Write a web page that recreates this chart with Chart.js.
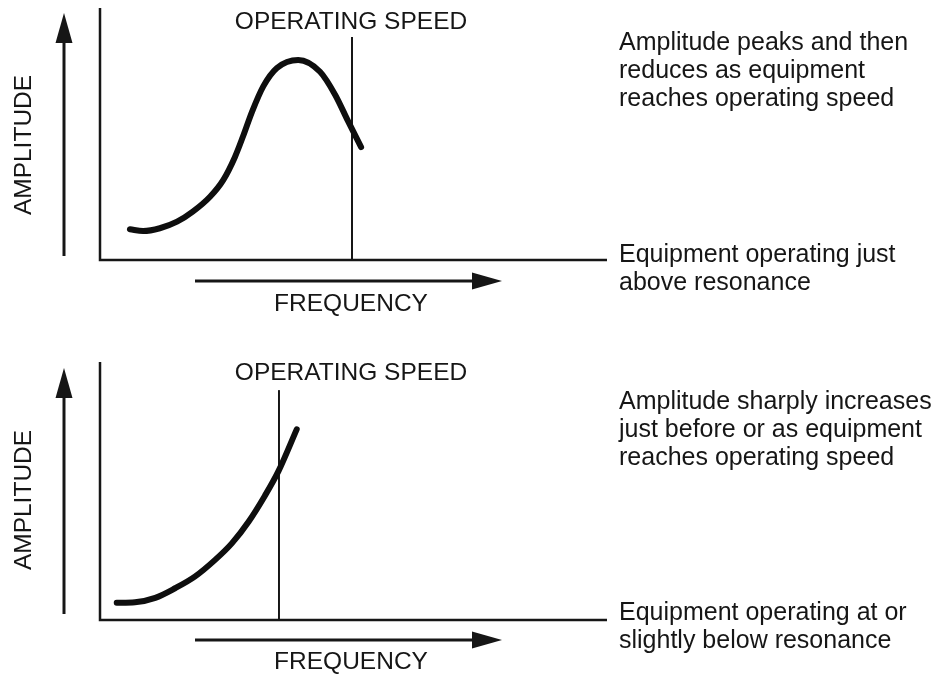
<!DOCTYPE html>
<html>
<head>
<meta charset="utf-8">
<script src="https://cdn.jsdelivr.net/npm/chart.js@4.4.1/dist/chart.umd.min.js"></script>
<style>
  body { margin: 0; background: #fff; }
  #wrap { position: relative; width: 940px; height: 676px; }
  canvas { position: absolute; left: 0; }
</style>
</head>
<body>
<div id="wrap">
  <canvas id="topChart" width="940" height="338" style="top:0"></canvas>
  <canvas id="bottomChart" width="940" height="338" style="top:338px"></canvas>
</div>
<script>
// top panel: just above resonance (frequency / amplitude, 0-100)
const topFreq = [5.9, 8.5, 11.8, 15.2, 18.3, 21.7, 24.3, 26.6, 28.2, 30.0, 32.2, 34.9, 39.1, 43.4, 46.4, 48.9, 51.5];
const topAmp  = [12.2, 11.5, 12.6, 15.2, 19.2, 25.1, 31.7, 40.8, 49.0, 58.9, 68.9, 76.2, 79.4, 74.7, 65.5, 55.2, 44.8];
const topSpeed = 49.7;
const topSpeedTop = 88.5;

// bottom panel: at or slightly below resonance
const botFreq = [3.3, 6.9, 10.9, 14.8, 18.7, 22.7, 26.0, 29.3, 32.5, 35.2, 38.8];
const botAmp  = [6.7, 6.9, 8.6, 12.3, 16.8, 23.3, 29.7, 38.1, 48.1, 57.7, 73.9];
const botSpeed = 35.3;
const botSpeedTop = 89.1;

const topNotes = ["Amplitude peaks and then", "reduces as equipment", "reaches operating speed"];
const topBase  = ["Equipment operating just", "above resonance"];
const botNotes = ["Amplitude sharply increases", "just before or as equipment", "reaches operating speed"];
const botBase  = ["Equipment operating at or", "slightly below resonance"];

const ink = "#161616";
const labelFont = '24.5px "Liberation Sans", Arial, sans-serif';
const noteFont = '25px "Liberation Sans", Arial, sans-serif';

function arrowUp(ctx, x, yTip, yEnd) {
    ctx.lineWidth = 3;
    ctx.beginPath();
    ctx.moveTo(x, yEnd);
    ctx.lineTo(x, yTip + 20);
    ctx.stroke();
    ctx.beginPath();
    ctx.moveTo(x, yTip);
    ctx.lineTo(x - 8.5, yTip + 30);
    ctx.lineTo(x + 8.5, yTip + 30);
    ctx.closePath();
    ctx.fill();
}

function arrowRight(ctx, xStart, xTip, y) {
    ctx.lineWidth = 3;
    ctx.beginPath();
    ctx.moveTo(xStart, y);
    ctx.lineTo(xTip - 20, y);
    ctx.stroke();
    ctx.beginPath();
    ctx.moveTo(xTip, y);
    ctx.lineTo(xTip - 30, y - 8.5);
    ctx.lineTo(xTip - 30, y + 8.5);
    ctx.closePath();
    ctx.fill();
}

// axes, arrows and labels
function decorations(opts) {
    return {
        id: "decor",
        afterDraw(chart) {
            const ctx = chart.ctx;
            const a = chart.chartArea;
            ctx.save();
            ctx.strokeStyle = ink;
            ctx.fillStyle = ink;
            ctx.lineWidth = 2.5;
            ctx.beginPath();
            ctx.moveTo(a.left, a.top);
            ctx.lineTo(a.left, a.bottom);
            ctx.lineTo(a.right, a.bottom);
            ctx.stroke();

            arrowUp(ctx, 64, opts.upTip, opts.upEnd);
            arrowRight(ctx, 195, 502, opts.freqY);

            ctx.font = labelFont;
            ctx.textBaseline = "middle";
            ctx.textAlign = "center";
            ctx.fillText("OPERATING SPEED", 351, opts.speedLabelY);
            ctx.fillText("FREQUENCY", 351, opts.freqLabelY);

            ctx.save();
            ctx.translate(24, opts.ampLabelY);
            ctx.rotate(-Math.PI / 2);
            ctx.fillText("AMPLITUDE", 0, 0);
            ctx.restore();

            ctx.font = noteFont;
            ctx.textAlign = "left";
            opts.notes.forEach((t, i) => ctx.fillText(t, 619, opts.notesY + i * 28));
            opts.base.forEach((t, i) => ctx.fillText(t, 619, opts.baseY + i * 28));
            ctx.restore();
        }
    };
}

function makeChart(id, freq, amp, speed, speedTop, pad, opts) {
    const curve = freq.map((f, i) => ({ x: f, y: amp[i] }));
    new Chart(document.getElementById(id), {
        type: "line",
        data: {
            datasets: [{
                data: curve,
                borderColor: "#0e0e0e",
                borderWidth: 6,
                borderCapStyle: "round",
                borderJoinStyle: "round",
                pointRadius: 0,
                cubicInterpolationMode: "monotone",
                fill: false
            }, {
                data: [{ x: speed, y: 0 }, { x: speed, y: speedTop }],
                borderColor: ink,
                borderWidth: 2,
                pointRadius: 0,
                fill: false
            }]
        },
        options: {
            responsive: false,
            animation: false,
            devicePixelRatio: 1,
            layout: { padding: pad },
            scales: {
                x: { type: "linear", min: 0, max: 100, display: false },
                y: { min: 0, max: 100, display: false }
            },
            plugins: { legend: { display: false }, tooltip: { enabled: false } }
        },
        plugins: [decorations(opts)]
    });
}

makeChart("topChart", topFreq, topAmp, topSpeed, topSpeedTop,
    { left: 100, right: 333, top: 8, bottom: 78 },
    { upTip: 13, upEnd: 256, freqY: 281, speedLabelY: 22, freqLabelY: 304, ampLabelY: 145,
      notes: topNotes, notesY: 43, base: topBase, baseY: 255 });

makeChart("bottomChart", botFreq, botAmp, botSpeed, botSpeedTop,
    { left: 100, right: 333, top: 24, bottom: 56 },
    { upTip: 30, upEnd: 276, freqY: 302, speedLabelY: 35, freqLabelY: 324, ampLabelY: 162,
      notes: botNotes, notesY: 64, base: botBase, baseY: 275 });
</script>
</body>
</html>
